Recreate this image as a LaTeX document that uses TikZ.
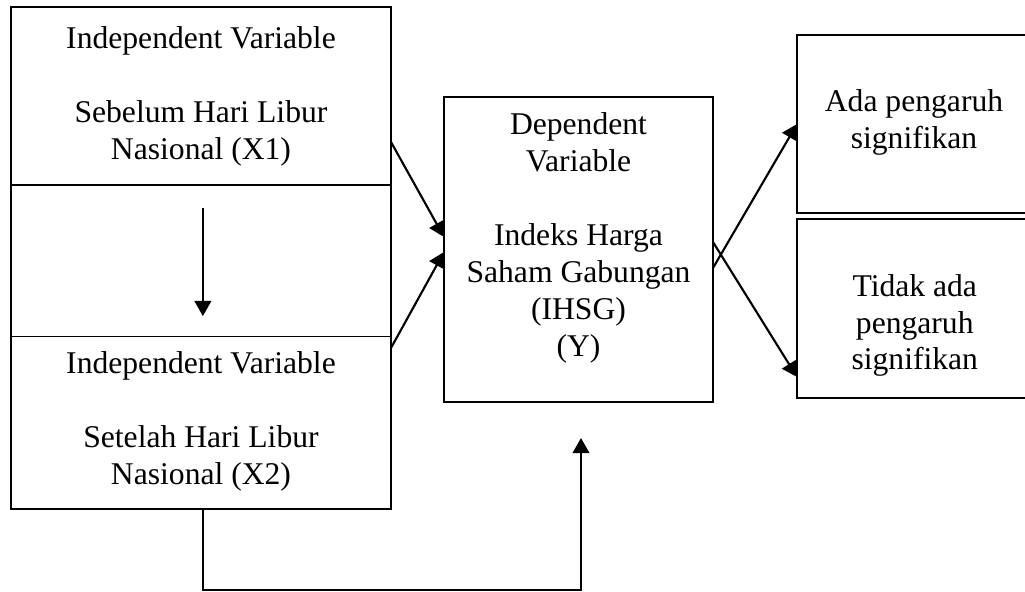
\documentclass[tikz,border=0pt]{standalone}
\usepackage{fontspec}
\setmainfont{Liberation Serif}
\usetikzlibrary{arrows.meta,positioning}

\begin{document}
\begin{tikzpicture}[
    box/.style={draw, line width=1.5pt, outer sep=0pt, inner sep=0pt},
    lbl/.style={align=center, font=\fontsize{23.8}{27.8}\selectfont},
    arr/.style={line width=1.6pt, -{Triangle[length=4mm, width=4.4mm]}}
]
    \path[use as bounding box, clip] (0,0) rectangle (27.116,15.635);

    % --- 1. Independent variables (left column) ---
    \node[box, minimum width=10.053cm, minimum height=4.696cm] (x1) at (5.317,13.102) {};
    \node[box, minimum width=10.053cm, minimum height=4.021cm, below=0pt of x1] (gap) {};
    \node[box, minimum width=10.053cm, minimum height=4.563cm, below=0pt of gap] (x2) {};
    \node[lbl] (x1txt) at (5.317,13.089) {Independent Variable\\[27.8pt]Sebelum Hari Libur\\Nasional (X1)};
    \node[lbl] (x2txt) at (5.317,4.478) {Independent Variable\\[27.8pt]Setelah Hari Libur\\Nasional (X2)};

    % --- 2. Dependent variable ---
    \node[box, minimum width=7.116cm, minimum height=8.069cm] (dep) at (15.304,9.034) {};
    \node[lbl] (deptxt) at (15.304,9.339) {Dependent\\Variable\\[27.8pt]Indeks Harga\\Saham Gabungan\\(IHSG)\\(Y)};

    % --- 3. Outcomes (cut off at the right edge) ---
    \node[box, minimum width=6.190cm, minimum height=4.709cm] (sig) at (24.180,12.354) {};
    \node[box, minimum width=6.190cm, minimum height=4.735cm] (nonsig) at (24.180,7.474) {};
    \node[lbl] (sigtxt) at (24.18,12.394) {Ada pengaruh\\signifikan};
    \node[lbl] (nonsigtxt) at (24.2,7.024) {Tidak ada\\pengaruh\\signifikan};

    % --- 4. Arrows ---
    \draw[arr] ([xshift=0.05cm, yshift=-0.62cm]x1.south) -- ([xshift=0.05cm, yshift=0.54cm]x2.north);
    \draw[arr] ([yshift=-1.224cm]x1.east) -- ([yshift=0.331cm]dep.west);
    \draw[arr] ([yshift=1.978cm]x2.east) -- ([yshift=-0.066cm]dep.west);
    \draw[arr] ([yshift=-0.489cm]dep.east) -- (sig.west);
    \draw[arr] ([yshift=0.198cm]dep.east) -- ([yshift=-1.812cm]nonsig.west);

    % loop from X2 back up under the dependent box
    \coordinate (low) at (15.37,0.03);
    \draw[arr] ([xshift=0.05cm]x2.south) |- (low) -- ([xshift=0.066cm, yshift=-0.952cm]dep.south);
\end{tikzpicture}
\end{document}
